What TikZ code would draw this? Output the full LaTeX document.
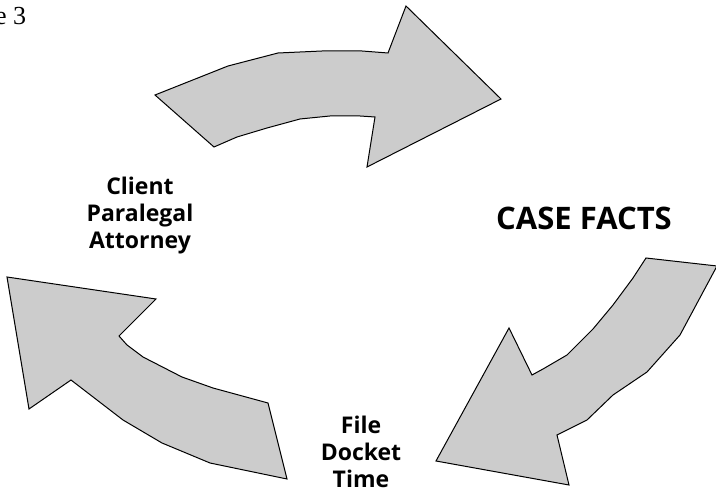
\documentclass[tikz,border=0pt]{standalone}
\usepackage{fontspec}
\setmainfont{Liberation Serif}
\newfontfamily\lblfont{Open Sans}
\definecolor{arrowgray}{RGB}{204,204,204}
\begin{document}
\begin{tikzpicture}[x=1pt,y=-1pt,
  bigarrow/.style={draw=black, fill=arrowgray, line width=1pt, line join=miter},
  lbl/.style={font=\lblfont\bfseries\fontsize{23}{27}\selectfont, align=center, inner sep=0pt},
  bigl/.style={font=\lblfont\bfseries\fontsize{31}{36}\selectfont, inner sep=0pt},
  fig/.style={font=\fontsize{26}{30}\selectfont, inner sep=0pt, anchor=base west}]
\useasboundingbox (0,0) rectangle (716,494);
% top arrow
\draw[bigarrow] (155,95) -- (228,66) -- (278,53) -- (322,51) -- (362,51) -- (388,53)
  -- (406,6) -- (501,99) -- (367,167) -- (375,117) -- (360,116) -- (330,116)
  -- (300,119) -- (267,128) -- (237,137) -- (214,147) -- cycle;
% right arrow
\draw[bigarrow] (646,258) -- (717,266) -- (680,335) -- (647,372) -- (613,395)
  -- (587,420) -- (557,435) -- (569,485) -- (436,461) -- (509,328) -- (532,375)
  -- (543,369) -- (567,355) -- (593,329) -- (613,305) -- (633,278) -- cycle;
% left arrow
\draw[bigarrow] (7,277) -- (156,299) -- (119,336) -- (127,345) -- (143,357)
  -- (182,377) -- (213,388) -- (268,403) -- (287,479) -- (210,463) -- (162,443)
  -- (123,420) -- (97,400) -- (71,380) -- (29,409) -- cycle;
% labels
\node[fig] (fignum) at (-5,24.5) {e 3};
\node[lbl] (people) at (140,216) {Client\\Paralegal\\Attorney};
\node[bigl] (facts) at (584,218) {CASE FACTS};
\node[lbl] (tasks) at (361,452) {File\\Docket\\Time};
\end{tikzpicture}
\end{document}
